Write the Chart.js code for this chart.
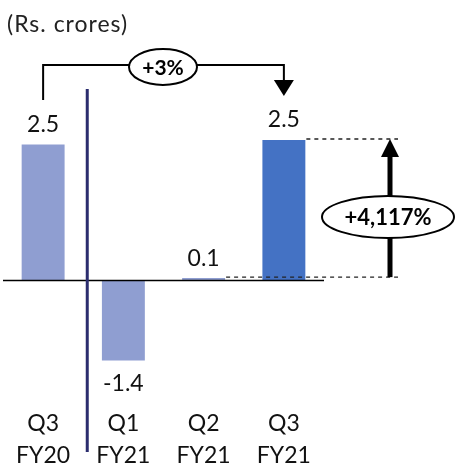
<!DOCTYPE html>
<html>
<head>
<meta charset="utf-8">
<script src="https://cdn.jsdelivr.net/npm/chart.js@4"></script>
<style>
  html, body { margin: 0; padding: 0; background: #fff; overflow: hidden; }
  canvas { display: block; }
</style>
</head>
<body>
<canvas id="profitChart" width="455" height="463"></canvas>
<script>
const quarters = ['Q3', 'Q1', 'Q2', 'Q3'];
const fiscalYears = ['FY20', 'FY21', 'FY21', 'FY21'];
const profit = [2.42, -1.43, 0.06, 2.5];
const profitLabels = ['2.5', '-1.4', '0.1', '2.5'];
const barColors = ['#8f9ed1', '#8f9ed1', '#8f9ed1', '#4472c4'];
const yoyChange = '+3%';
const qoqChange = '+4,117%';
const unitNote = '(Rs. crores)';

const FONT = 'Lato, "Open Sans", sans-serif';

function ellipseLabel(ctx, cx, cy, rx, ry, text, size) {
  ctx.save();
  ctx.beginPath();
  ctx.ellipse(cx, cy, rx, ry, 0, 0, Math.PI * 2);
  ctx.fillStyle = '#fff';
  ctx.fill();
  ctx.lineWidth = 2;
  ctx.strokeStyle = '#000';
  ctx.stroke();
  ctx.fillStyle = '#000';
  ctx.font = `bold ${size}px ${FONT}`;
  ctx.textAlign = 'center';
  ctx.textBaseline = 'middle';
  ctx.fillText(text, cx, cy + 1);
  ctx.restore();
}

function arrowHead(ctx, x, tipY, dir, w, h) {
  ctx.beginPath();
  ctx.moveTo(x, tipY);
  ctx.lineTo(x - w / 2, tipY - dir * h);
  ctx.lineTo(x + w / 2, tipY - dir * h);
  ctx.closePath();
  ctx.fill();
}

const annotations = {
  id: 'annotations',
  afterDatasetsDraw(chart) {
    const { ctx, scales: { x, y } } = chart;
    const meta = chart.getDatasetMeta(0);
    const zero = y.getPixelForValue(0);

    ctx.save();
    // baseline
    ctx.strokeStyle = '#000';
    ctx.lineWidth = 1.5;
    ctx.beginPath();
    ctx.moveTo(x.left, zero);
    ctx.lineTo(x.right, zero);
    ctx.stroke();

    // divider between FY20 and FY21
    const divX = (x.getPixelForValue(0) + x.getPixelForValue(1)) / 2 + 4;
    ctx.strokeStyle = '#2b2d6e';
    ctx.lineWidth = 3;
    ctx.beginPath();
    ctx.moveTo(divX, 89);
    ctx.lineTo(divX, 452);
    ctx.stroke();

    // value labels
    ctx.fillStyle = '#111';
    ctx.font = `23px ${FONT}`;
    ctx.textAlign = 'center';
    ctx.textBaseline = 'middle';
    meta.data.forEach((bar, i) => {
      const yy = profit[i] >= 0 ? Math.min(bar.y, bar.base) - 19 : Math.max(bar.y, bar.base) + 22;
      ctx.fillText(profitLabels[i], bar.x, yy);
    });

    // category labels
    quarters.forEach((q, i) => {
      const cx = x.getPixelForValue(i);
      ctx.fillText(q, cx, 424);
      ctx.fillText(fiscalYears[i], cx, 456);
    });

    // unit note
    ctx.textAlign = 'left';
    ctx.font = `23px ${FONT}`;
    ctx.letterSpacing = '1px';
    ctx.fillStyle = '#222';
    ctx.fillText(unitNote, 7, 25);
    ctx.letterSpacing = '0px';

    // +3% bracket
    const first = meta.data[0];
    const last = meta.data[3];
    const q2 = meta.data[2];
    const bracketY = 65;
    ctx.strokeStyle = '#000';
    ctx.fillStyle = '#000';
    ctx.lineWidth = 2;
    ctx.beginPath();
    ctx.moveTo(first.x, 100);
    ctx.lineTo(first.x, bracketY);
    ctx.lineTo(last.x, bracketY);
    ctx.lineTo(last.x, 82);
    ctx.stroke();
    arrowHead(ctx, last.x, 96, 1, 20, 16);
    ellipseLabel(ctx, 163, 67, 34, 18, yoyChange, 21);

    // dashed guides
    const topY = last.y;
    const lowY = q2.y;
    const guideEnd = 398;
    ctx.setLineDash([4, 4]);
    ctx.lineWidth = 1.3;
    ctx.strokeStyle = '#222';
    ctx.beginPath();
    ctx.moveTo(last.x + last.width / 2, topY);
    ctx.lineTo(guideEnd, topY);
    ctx.moveTo(q2.x + q2.width / 2, lowY);
    ctx.lineTo(guideEnd, lowY);
    ctx.stroke();
    ctx.setLineDash([]);

    // growth arrow
    const arrowX = 390;
    ctx.strokeStyle = '#000';
    ctx.lineWidth = 5;
    ctx.beginPath();
    ctx.moveTo(arrowX, lowY);
    ctx.lineTo(arrowX, topY + 15);
    ctx.stroke();
    ctx.fillStyle = '#000';
    arrowHead(ctx, arrowX, topY, -1, 18, 18);
    ellipseLabel(ctx, 388, 217, 66, 21, qoqChange, 22);

    ctx.restore();
  }
};

new Chart(document.getElementById('profitChart'), {
  type: 'bar',
  data: {
    labels: quarters.map((q, i) => `${q} ${fiscalYears[i]}`),
    datasets: [{
      data: profit,
      backgroundColor: barColors,
      borderColor: 'rgba(255,255,255,0.6)',
      borderWidth: 1,
      barPercentage: 0.56,
      categoryPercentage: 1
    }]
  },
  options: {
    responsive: false,
    animation: false,
    devicePixelRatio: 1,
    layout: { padding: { left: 3, right: 131, top: 0, bottom: 0 } },
    plugins: { legend: { display: false }, tooltip: { enabled: false } },
    scales: {
      x: { display: false },
      y: { display: false, min: -3.224, max: 4.956 }
    }
  },
  plugins: [annotations]
});
</script>
</body>
</html>
